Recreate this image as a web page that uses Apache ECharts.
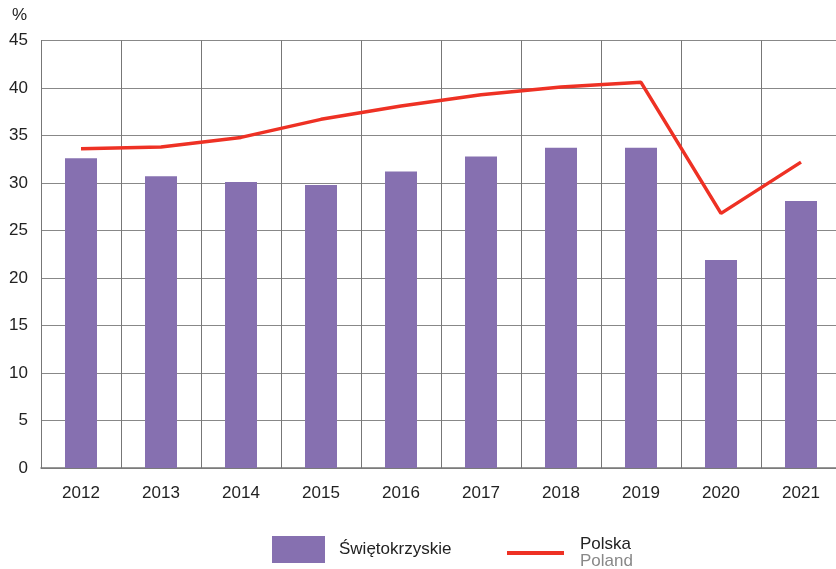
<!DOCTYPE html>
<html><head><meta charset="utf-8">
<script src="https://cdn.jsdelivr.net/npm/echarts@6/dist/echarts.min.js"></script>
<style>html,body{margin:0;padding:0;background:#fff}#c{width:836px;height:569px}</style>
</head><body><div id="c"></div>
<script>
const years = ['2012','2013','2014','2015','2016','2017','2018','2019','2020','2021'];
const swietokrzyskie = [32.6, 30.7, 30.1, 29.8, 31.2, 32.8, 33.7, 33.7, 21.9, 28.1];
const polska = [33.6, 33.8, 34.8, 36.7, 38.1, 39.3, 40.1, 40.6, 26.8, 32.2];

const chart = echarts.init(document.getElementById('c'));
const font = 'Liberation Sans, Arial, sans-serif';
chart.setOption({
  animation: false,
  textStyle: {fontFamily: font},
  grid: {left: 41, width: 800, top: 40.5, bottom: 101, outerBoundsMode: 'none', containLabel: false},
  xAxis: {
    type: 'category', data: years, boundaryGap: true,
    axisLine: {show: true, lineStyle: {color: '#777', width: 1.5}},
    axisTick: {show: false},
    axisLabel: {color: '#222', fontSize: 17, margin: 17, fontFamily: font},
    splitLine: {show: true, lineStyle: {color: '#777', width: 1}}
  },
  yAxis: {
    type: 'value', min: 0, max: 45, interval: 5,
    name: '%', nameLocation: 'end', nameGap: 17,
    nameTextStyle: {color: '#222', fontSize: 17, align: 'right', padding: [0, 14, 0, 0], fontFamily: font},
    axisLine: {show: true, lineStyle: {color: '#777', width: 1}},
    axisTick: {show: false},
    axisLabel: {color: '#222', fontSize: 17, margin: 13, fontFamily: font},
    splitLine: {show: true, lineStyle: {color: '#888', width: 1}}
  },
  legend: [{
    data: [{name: 'Świętokrzyskie', icon: 'rect'}], left: 272, top: 536, padding: 0,
    itemWidth: 53, itemHeight: 27, itemGap: 10,
    textStyle: {color: '#222', fontSize: 17, padding: [0, 0, 0, 9], fontFamily: font}
  }, {
    data: [{name: 'Polska', icon: 'rect'}], left: 507, top: 536, padding: 0,
    itemWidth: 57, itemHeight: 4, itemGap: 10,
    formatter: function(n){ return '{a|Polska}\n{b|Poland}'; },
    textStyle: {
      fontFamily: font, padding: [0, 0, 0, 11],
      rich: {
        a: {color: '#222', fontSize: 17, lineHeight: 17, fontFamily: font},
        b: {color: '#888', fontSize: 17, lineHeight: 17, fontFamily: font}
      }
    }
  }],
  series: [{
    name: 'Świętokrzyskie', type: 'bar', data: swietokrzyskie,
    barWidth: 32, itemStyle: {color: '#8670b0'}
  }, {
    name: 'Polska', type: 'line', data: polska,
    symbol: 'none', lineStyle: {color: '#ee3124', width: 3.5},
    itemStyle: {color: '#ee3124'}
  }]
});
</script></body></html>
